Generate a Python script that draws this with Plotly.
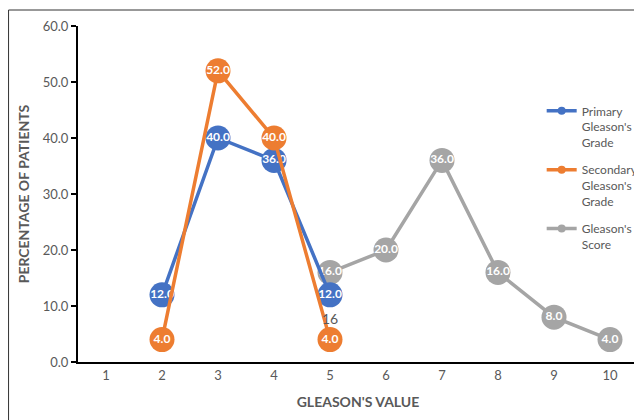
import plotly.graph_objects as go

x_primary = [2, 3, 4, 5]
primary = [12.0, 40.0, 36.0, 12.0]
x_secondary = [2, 3, 4, 5]
secondary = [4.0, 52.0, 40.0, 4.0]
x_score = [5, 6, 7, 8, 9, 10]
score = [16.0, 20.0, 36.0, 16.0, 8.0, 4.0]
x_ticks = [1, 2, 3, 4, 5, 6, 7, 8, 9, 10]
y_ticks = [0, 10, 20, 30, 40, 50, 60]

BLUE = "#4472C4"
ORANGE = "#ED7D31"
GRAY = "#A5A5A5"
TXT = "#595959"
FONT = "Lato, Carlito, Calibri, sans-serif"

fig = go.Figure()

def series(xs, ys, color):
    fig.add_trace(go.Scatter(
        x=xs, y=ys, mode="lines+markers+text", showlegend=False,
        line=dict(color=color, width=3.5),
        marker=dict(color=color, size=25),
        text=[f"{v:.1f}" for v in ys], textposition="middle center",
        textfont=dict(color="white", size=12, family=FONT, weight="bold"),
        cliponaxis=False, hoverinfo="skip"))

series(x_score, score, GRAY)
series(x_primary, primary, BLUE)
series(x_secondary, secondary, ORANGE)

for i, (name, color) in enumerate([("Primary<br>Gleason's<br>Grade", BLUE),
                                   ("Secondary<br>Gleason's<br>Grade", ORANGE),
                                   ("Gleason's<br>Score", GRAY)]):
    fig.add_trace(go.Scatter(x=[None], y=[None], mode="lines+markers", name=name,
                             legendgroup=f"g{i}",
                             line=dict(color=color, width=3.5),
                             marker=dict(color=color, size=8)))

fig.add_annotation(x=5, y=7.7, xref="x", yref="y", text="16", showarrow=False,
                   font=dict(color=TXT, size=14, family=FONT))

fig.add_shape(type="rect", xref="paper", yref="paper",
              x0=-0.124, x1=1.0054, y0=-0.2, y1=1.0476,
              line=dict(color="#333333", width=1), layer="below")

fig.update_layout(
    width=634, height=412,
    margin=dict(l=70, r=4, t=18, b=58, autoexpand=False),
    paper_bgcolor="white", plot_bgcolor="white",
    font=dict(family=FONT, color=TXT, size=12),
    xaxis=dict(range=[0.5, 10.5], tickvals=x_ticks, showgrid=False, zeroline=False,
               automargin=False,
               showline=True, linecolor="black", linewidth=2, ticks="",
               tickfont=dict(size=13, color=TXT),
               title=dict(text="<b>GLEASON'S VALUE</b>", font=dict(size=14, color=TXT), standoff=16)),
    yaxis=dict(range=[0, 60], tickvals=y_ticks, tickformat=".1f", showgrid=False, zeroline=False,
               automargin=False,
               showline=True, linecolor="black", linewidth=2, ticks="outside", ticklen=5,
               tickcolor="black", tickwidth=1.5,
               tickfont=dict(size=13, color=TXT),
               title=dict(text="<b>PERCENTAGE OF PATIENTS</b>", font=dict(size=14, color=TXT), standoff=10)),
    legend=dict(x=0.828, y=0.79, xanchor="left", yanchor="top", bgcolor="rgba(0,0,0,0)",
                valign="top",
                font=dict(size=12, color=TXT), tracegroupgap=9, itemwidth=30),
)

fig.write_html("out.html")
